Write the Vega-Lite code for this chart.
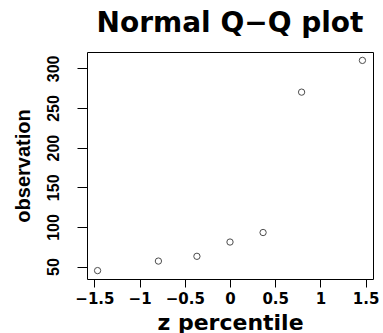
{
  "$schema": "https://vega.github.io/schema/vega-lite/v6.json",
  "width": 286,
  "height": 227,
  "autosize": {"type": "none"},
  "padding": {"left": 87, "top": 52, "right": 10, "bottom": 54},
  "background": "white",
  "title": {
    "text": "Normal Q−Q plot",
    "font": "DejaVu Sans",
    "fontSize": 28,
    "fontWeight": "bold",
    "color": "black",
    "anchor": "middle",
    "offset": 14
  },
  "config": {
    "view": {"stroke": "black", "strokeWidth": 1},
    "axis": {
      "grid": false,
      "domain": false,
      "tickColor": "black",
      "tickWidth": 1,
      "labelColor": "black",
      "titleColor": "black",
      "labelFontWeight": "bold",
      "titleFontWeight": "bold"
    }
  },
  "data": {
    "values": [
      {"z": -1.465, "obs": 45},
      {"z": -0.792, "obs": 57},
      {"z": -0.366, "obs": 63},
      {"z": 0.0, "obs": 81},
      {"z": 0.366, "obs": 93},
      {"z": 0.792, "obs": 270},
      {"z": 1.465, "obs": 310}
    ]
  },
  "mark": {"type": "point", "shape": "circle", "filled": false, "stroke": "black", "strokeWidth": 1, "size": 40},
  "encoding": {
    "x": {
      "field": "z",
      "type": "quantitative",
      "scale": {"domain": [-1.582, 1.582], "nice": false, "zero": false},
      "axis": {
        "title": "z percentile",
        "values": [-1.5, -1, -0.5, 0, 0.5, 1, 1.5],
        "format": ".1~f",
        "tickSize": 8,
        "labelPadding": 4,
        "labelFont": "DejaVu Sans",
        "labelFontSize": 15,
        "labelOverlap": false,
        "titleFont": "DejaVu Sans",
        "titleFontSize": 22,
        "titlePadding": 6
      }
    },
    "y": {
      "field": "obs",
      "type": "quantitative",
      "scale": {"domain": [34.4, 320.6], "nice": false, "zero": false},
      "axis": {
        "title": "observation",
        "values": [50, 100, 150, 200, 250, 300],
        "tickSize": 10,
        "labelAngle": 270,
        "labelAlign": "center",
        "labelBaseline": "bottom",
        "labelPadding": 16,
        "labelFont": "Liberation Sans",
        "labelFontSize": 16,
        "labelOverlap": false,
        "titleFont": "Liberation Sans",
        "titleFontSize": 20,
        "titlePadding": 12
      }
    }
  }
}
